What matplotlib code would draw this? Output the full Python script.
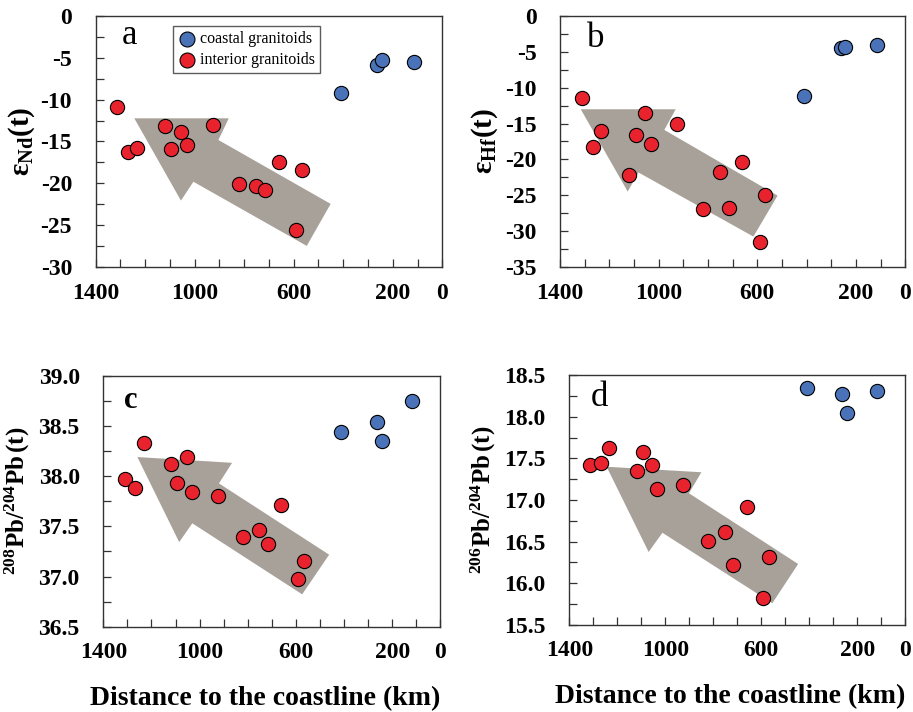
import numpy as np
import matplotlib.pyplot as plt
from matplotlib.patches import Polygon
from matplotlib.ticker import FixedLocator, MultipleLocator, FormatStrFormatter

plt.rcParams['font.family'] = 'Liberation Serif'
plt.rcParams['mathtext.fontset'] = 'custom'
plt.rcParams['mathtext.rm'] = 'Liberation Serif'
plt.rcParams['mathtext.bf'] = 'Liberation Serif:bold'
plt.rcParams['mathtext.it'] = 'Liberation Serif:italic'
plt.rcParams['axes.unicode_minus'] = False

# distance to the coastline (km)
interior_dist = [1312, 1268, 1233, 1120, 1094, 1054, 1033, 925, 821, 752, 716, 661, 568, 591]
coastal_dist = [411, 262, 243, 116]

# eNd(t)
interior_nd = [-10.9, -16.3, -15.8, -13.2, -15.9, -13.9, -15.4, -13.0, -20.1, -20.3, -20.8, -17.5, -18.4, -25.6]
coastal_nd = [-9.2, -5.9, -5.3, -5.5]

# eHf(t)
interior_hf = [-11.4, -18.3, -16.1, -22.2, -16.6, -13.5, -17.9, -15.1, -26.9, -21.8, -26.8, -20.3, -24.9, -31.5]
coastal_hf = [-11.2, -4.5, -4.3, -4.1]

# 208Pb/204Pb(t)
interior_pb208 = [37.97, 37.88, 38.33, 38.12, 37.93, 38.19, 37.84, 37.80, 37.39, 37.46, 37.32, 37.71, 37.15, 36.98]
coastal_pb208 = [38.44, 38.54, 38.35, 38.75]

# 206Pb/204Pb(t)
interior_pb206 = [17.42, 17.45, 17.62, 17.35, 17.58, 17.42, 17.13, 17.18, 16.51, 16.61, 16.22, 16.92, 16.32, 15.82]
coastal_pb206 = [18.35, 18.27, 18.05, 18.31]

x_labels = [1400, 1000, 600, 200, 0]

RED = '#e8232d'
BLUE = '#4a72b8'
ARROW = '#a8a199'

fig = plt.figure(figsize=(9.13, 7.12), dpi=100)

panels = [
    dict(rect=[0.1048, 0.6246, 0.3796, 0.3534], y_int=interior_nd, y_coa=coastal_nd,
         ylim=(-30, 0), step=5, fmt='%d', ylabel=r'$\mathbf{ε_{Nd}(t)}$', ylab_x=-0.17,
         ysize=21, letter='a', lpos=(0.075, 0.887), lbold=False,
         arrow=[(0.1115, 0.592), (0.384, 0.592), (0.354, 0.506), (0.678, 0.252),
                (0.609, 0.085), (0.282, 0.340), (0.246, 0.265)]),
    dict(rect=[0.6134, 0.6246, 0.3782, 0.3534], y_int=interior_hf, y_coa=coastal_hf,
         ylim=(-35, 0), step=5, fmt='%d', ylabel=r'$\mathbf{ε_{Hf}(t)}$', ylab_x=-0.175,
         ysize=21, letter='b', lpos=(0.077, 0.877), lbold=False,
         arrow=[(0.060, 0.628), (0.335, 0.628), (0.302, 0.546), (0.630, 0.285),
                (0.560, 0.122), (0.227, 0.377), (0.196, 0.301)]),
    dict(rect=[0.1132, 0.1198, 0.3691, 0.3525], y_int=interior_pb208, y_coa=coastal_pb208,
         ylim=(36.5, 39.0), step=0.5, fmt='%.1f',
         ylabel=r'$\mathbf{{}^{208}Pb/{}^{204}Pb\,(t)}$', ylab_x=-0.212,
         ysize=18, letter='c', lpos=(0.06, 0.870), lbold=True,
         arrow=[(0.101, 0.676), (0.382, 0.653), (0.343, 0.571), (0.670, 0.287),
                (0.590, 0.129), (0.264, 0.412), (0.225, 0.337)]),
    dict(rect=[0.6236, 0.1222, 0.3680, 0.3511], y_int=interior_pb206, y_coa=coastal_pb206,
         ylim=(15.5, 18.5), step=0.5, fmt='%.1f',
         ylabel=r'$\mathbf{{}^{206}Pb/{}^{204}Pb\,(t)}$', ylab_x=-0.212,
         ysize=18, letter='d', lpos=(0.065, 0.876), lbold=False,
         arrow=[(0.111, 0.633), (0.393, 0.611), (0.356, 0.527), (0.681, 0.244),
                (0.604, 0.087), (0.277, 0.369), (0.236, 0.292)]),
]

for i, p in enumerate(panels):
    ax = fig.add_axes(p['rect'])
    ax.add_patch(Polygon(p['arrow'], closed=True, transform=ax.transAxes,
                         facecolor=ARROW, edgecolor='none', zorder=1))
    ax.scatter(interior_dist, p['y_int'], s=105, c=RED, edgecolors='black',
               linewidths=0.8, zorder=3, label='interior granitoids')
    ax.scatter(coastal_dist, p['y_coa'], s=105, c=BLUE, edgecolors='black',
               linewidths=0.8, zorder=3, label='coastal granitoids')

    ax.set_xlim(1400, 0)
    ax.set_ylim(*p['ylim'])
    ax.xaxis.set_major_locator(FixedLocator(x_labels))
    ax.xaxis.set_minor_locator(MultipleLocator(100))
    ax.yaxis.set_major_locator(MultipleLocator(p['step']))
    ax.yaxis.set_minor_locator(MultipleLocator(p['step'] / 2))
    ax.yaxis.set_major_formatter(FormatStrFormatter(p['fmt']))
    ax.tick_params(which='both', direction='in', length=6, width=0.9,
                   top=False, right=False, color='#333333')
    ax.tick_params(axis='x', which='major', pad=11, labelsize=17)
    ax.tick_params(axis='y', which='major', pad=17, labelsize=17)
    for lab in ax.get_xticklabels() + ax.get_yticklabels():
        lab.set_fontweight('bold')
    for sp in ax.spines.values():
        sp.set_color('#333333')
        sp.set_linewidth(1.0)

    ax.set_ylabel(p['ylabel'], fontsize=p['ysize'])
    ax.yaxis.set_label_coords(p['ylab_x'], 0.5)

    ax.text(p['lpos'][0], p['lpos'][1], p['letter'], transform=ax.transAxes,
            fontsize=22 if p['lbold'] else 25,
            fontweight='bold' if p['lbold'] else 'normal', va='baseline', ha='left')

    if i >= 2:
        ax.set_xlabel('Distance to the coastline (km)', fontsize=20, fontweight='bold')
        ax.xaxis.set_label_coords(0.48, -0.235)

    if i == 0:
        h, l = ax.get_legend_handles_labels()
        leg = ax.legend(h[::-1], l[::-1], loc='upper left', bbox_to_anchor=(0.224, 0.959),
                        borderaxespad=0, fontsize=11.5, frameon=True, fancybox=False,
                        edgecolor='#333333', handletextpad=0.3, labelspacing=0.35,
                        borderpad=0.3, handlelength=1.1, markerscale=1.05)
        leg.get_frame().set_linewidth(1.0)

fig.savefig('out.png', dpi=100)
